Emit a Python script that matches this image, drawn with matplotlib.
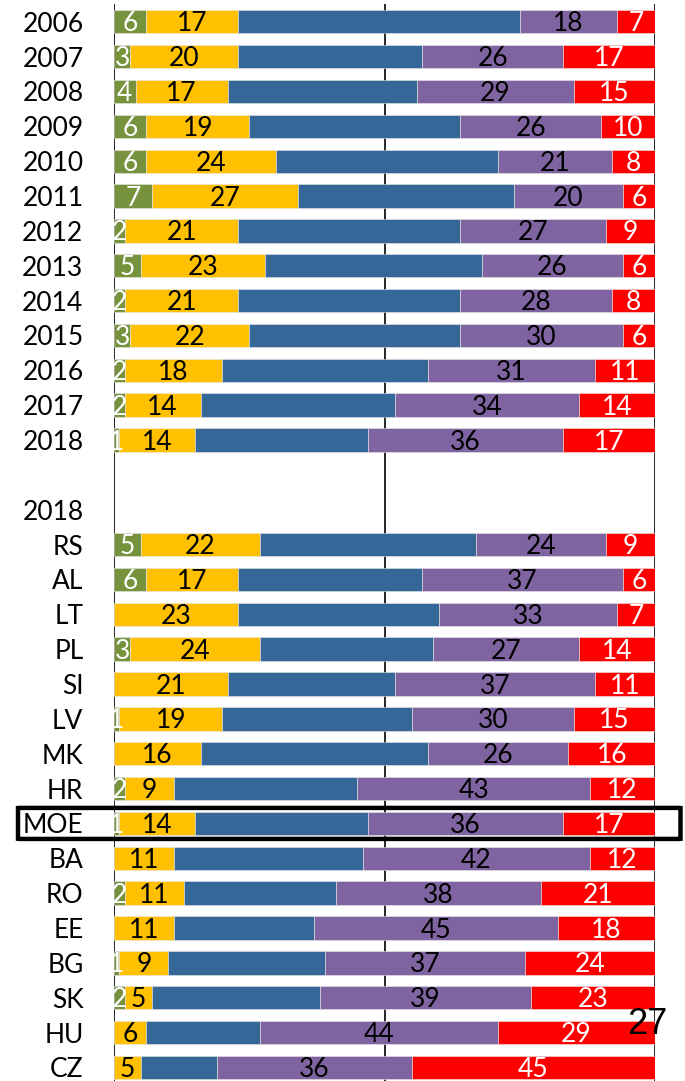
import matplotlib
matplotlib.use("Agg")
import matplotlib.pyplot as plt
import numpy as np
from matplotlib.patches import FancyBboxPatch
from matplotlib.transforms import blended_transform_factory

plt.rcParams['font.family'] = ['Lato', 'DejaVu Sans']

years = ['2006', '2007', '2008', '2009', '2010', '2011', '2012',
         '2013', '2014', '2015', '2016', '2017', '2018']
countries = ['RS', 'AL', 'LT', 'PL', 'SI', 'LV', 'MK', 'HR', 'MOE',
             'BA', 'RO', 'EE', 'BG', 'SK', 'HU', 'CZ']
header = '2018'

# shares per answer category (years first, then countries)
green = [6, 3, 4, 6, 6, 7, 2, 5, 2, 3, 2, 2, 1,
         5, 6, 0, 3, 0, 1, 0, 2, 1, 0, 2, 0, 1, 2, 0, 0]
yellow = [17, 20, 17, 19, 24, 27, 21, 23, 21, 22, 18, 14, 14,
          22, 17, 23, 24, 21, 19, 16, 9, 14, 11, 11, 11, 9, 5, 6, 5]
blue = [52, 34, 35, 39, 41, 40, 41, 40, 41, 39, 38, 36, 32,
        40, 34, 37, 32, 31, 35, 42, 34, 32, 35, 28, 26, 29, 31, 21, 14]
purple = [18, 26, 29, 26, 21, 20, 27, 26, 28, 30, 31, 34, 36,
          24, 37, 33, 27, 37, 30, 26, 43, 36, 42, 38, 45, 37, 39, 44, 36]
red = [7, 17, 15, 10, 8, 6, 9, 6, 8, 6, 11, 14, 17,
       9, 6, 7, 14, 11, 15, 16, 12, 17, 12, 21, 18, 24, 23, 29, 45]

page_no = '27'

series = [
    (green, '#76923C', 'white', True),
    (yellow, '#FFC000', 'black', True),
    (blue, '#356799', None, False),
    (purple, '#8064A2', 'black', True),
    (red, '#FF0000', 'white', True),
]

# row positions: years, one empty row, the header row, then the countries
ypos = list(range(len(years))) + list(range(len(years) + 2, len(years) + 2 + len(countries)))
header_pos = len(years) + 1

fig = plt.figure(figsize=(6.85, 10.81), dpi=100)
ax = fig.add_axes([114 / 685, 0, 541 / 685, 1077 / 1081])

left = np.zeros(len(ypos))
for vals, col, tcol, show in series:
    vals = np.array(vals, dtype=float)
    ax.barh(ypos, vals, left=left, height=0.67, color=col,
            edgecolor='#e6e6e6', linewidth=0.4, zorder=2)
    if show:
        for y, l, v in zip(ypos, left, vals):
            if v > 0:
                ax.text(l + v / 2, y + 0.06, f'{int(v)}', ha='center', va='center',
                        fontsize=19, color=tcol, zorder=3)
    left += vals

# vertical reference lines at 0, 50 and 100
for xv in (0, 50, 100):
    ax.axvline(xv, color='black', linewidth=1.2, zorder=1)

ax.set_xlim(0, 100)
ax.set_ylim(30.39, -0.51)
ax.set_yticks(ypos + [header_pos])
ax.set_yticklabels(years + countries + [header], fontsize=19)
ax.tick_params(axis='y', length=0, pad=22)
ax.set_xticks([])
for s in ax.spines.values():
    s.set_visible(False)

# frame around the MOE average row
moe_y = ypos[len(years) + countries.index('MOE')]
trans = blended_transform_factory(fig.transFigure, ax.transData)
box = FancyBboxPatch((18 / 685, moe_y - 0.445), (680.5 - 18) / 685, 0.89,
                     boxstyle='round,pad=0,rounding_size=0.003',
                     transform=trans, facecolor='none', edgecolor='black',
                     linewidth=3.2, clip_on=False, zorder=5)
fig.add_artist(box)

fig.text(647 / 685, 1 - 1025 / 1081, page_no, ha='center', va='center',
         fontsize=26, family='Liberation Sans', color='black')

fig.savefig('out.png', dpi=100)
